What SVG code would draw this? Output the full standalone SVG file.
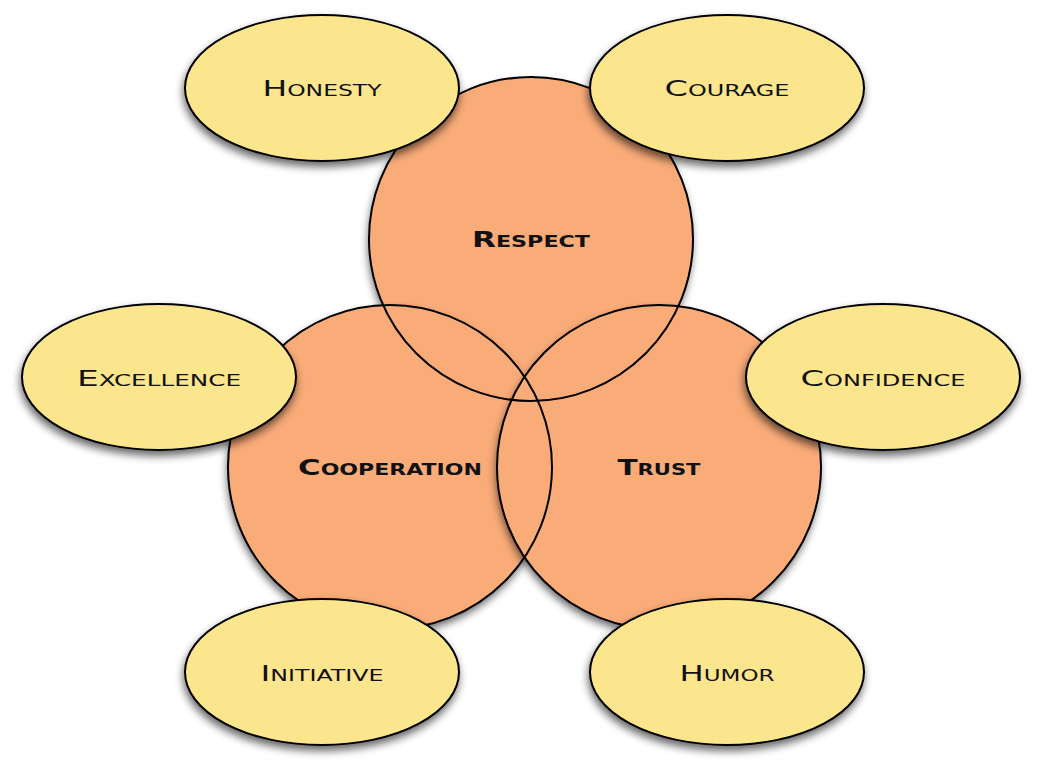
<svg xmlns="http://www.w3.org/2000/svg" width="1044" height="778" viewBox="0 0 1044 778">
<defs>
<filter id="sh" x="-20%" y="-20%" width="140%" height="150%">
<feGaussianBlur in="SourceAlpha" stdDeviation="4"/>
<feOffset dx="-1" dy="5" result="b"/>
<feComponentTransfer><feFuncA type="linear" slope="0.6"/></feComponentTransfer>
<feMerge><feMergeNode/><feMergeNode in="SourceGraphic"/></feMerge>
</filter>
<style>
.big{fill:#F9AB78;}
.ring{fill:none;stroke:#000;stroke-width:2;}
.ell{fill:#FBE58D;stroke:#000;stroke-width:2;}
.t{font-family:"DejaVu Sans","Liberation Sans",sans-serif;font-variant:small-caps;text-anchor:middle;fill:#111;font-size:21px;}
.tb{font-weight:bold;}
</style>
</defs>
<g id="circles">
<g id="respect"><circle class="big" cx="531" cy="239" r="162" filter="url(#sh)"/></g>
<g id="cooperation"><circle class="big" cx="390" cy="467" r="162" filter="url(#sh)"/></g>
<g id="trust"><circle class="big" cx="659" cy="467" r="162" filter="url(#sh)"/></g>
</g>
<g id="connectors">
<circle class="ring" cx="531" cy="239" r="162"/>
<circle class="ring" cx="390" cy="467" r="162"/>
<circle class="ring" cx="659" cy="467" r="162"/>
</g>
<g id="circle-labels">
<text class="t tb" x="531" y="247" textLength="118" lengthAdjust="spacingAndGlyphs">Respect</text>
<text class="t tb" x="390" y="475" textLength="184" lengthAdjust="spacingAndGlyphs">Cooperation</text>
<text class="t tb" x="659" y="475" textLength="83" lengthAdjust="spacingAndGlyphs">Trust</text>
</g>
<g id="honesty"><ellipse class="ell" cx="322" cy="88" rx="137" ry="73" filter="url(#sh)"/><text class="t" x="322" y="96" textLength="119" lengthAdjust="spacingAndGlyphs">Honesty</text></g>
<g id="courage"><ellipse class="ell" cx="727" cy="88" rx="137" ry="73" filter="url(#sh)"/><text class="t" x="727" y="96" textLength="125" lengthAdjust="spacingAndGlyphs">Courage</text></g>
<g id="excellence"><ellipse class="ell" cx="159" cy="377" rx="137" ry="73" filter="url(#sh)"/><text class="t" x="159" y="386" textLength="164" lengthAdjust="spacingAndGlyphs">Excellence</text></g>
<g id="confidence"><ellipse class="ell" cx="883" cy="377" rx="137" ry="73" filter="url(#sh)"/><text class="t" x="883" y="386" textLength="165" lengthAdjust="spacingAndGlyphs">Confidence</text></g>
<g id="initiative"><ellipse class="ell" cx="322" cy="672" rx="137" ry="73" filter="url(#sh)"/><text class="t" x="322" y="681" textLength="123" lengthAdjust="spacingAndGlyphs">Initiative</text></g>
<g id="humor"><ellipse class="ell" cx="727" cy="672" rx="137" ry="73" filter="url(#sh)"/><text class="t" x="727" y="681" textLength="95" lengthAdjust="spacingAndGlyphs">Humor</text></g>
</svg>
